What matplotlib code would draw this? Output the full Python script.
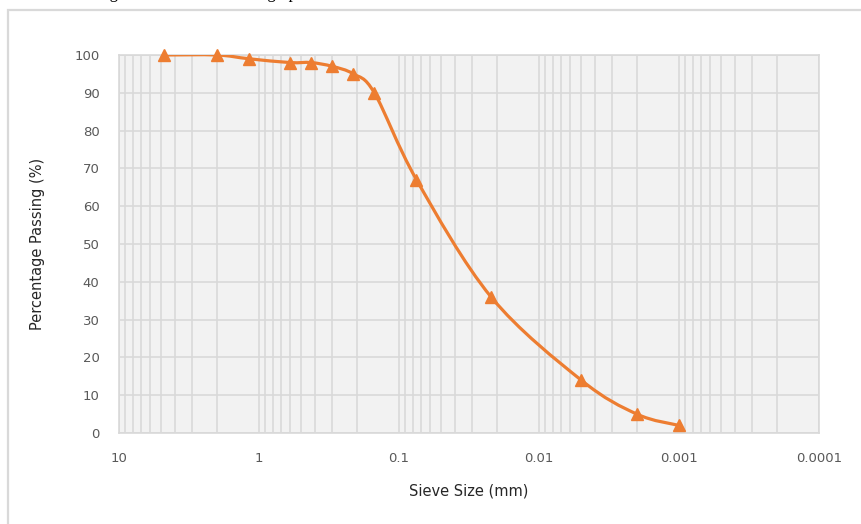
import numpy as np
import matplotlib
matplotlib.use('Agg')
import matplotlib.pyplot as plt
from matplotlib.path import Path
from matplotlib.patches import PathPatch, Rectangle
from matplotlib.ticker import LogLocator, NullFormatter, FixedLocator

# sieve / hydrometer results
sieve_size = [4.75, 2.0, 1.18, 0.6, 0.425, 0.3, 0.212, 0.15, 0.075, 0.022, 0.005, 0.002, 0.001]
passing = [100, 100, 99, 98, 98, 97, 95, 90, 67, 36, 14, 5, 2]
x_ticks = [10, 1, 0.1, 0.01, 0.001, 0.0001]
x_tick_labels = ['10', '1', '0.1', '0.01', '0.001', '0.0001']
y_ticks = [0, 10, 20, 30, 40, 50, 60, 70, 80, 90, 100]

orange = '#ED7D31'
grid_c = '#D9D9D9'
text_c = '#595959'

W, H = 861, 524
fig = plt.figure(figsize=(W / 100, H / 100), dpi=100)

# chart area border (cut by the page)
fig.patches.append(Rectangle((8 / W, -0.1), 1.1, 1 - 10 / H + 0.1, transform=fig.transFigure,
                             fill=False, edgecolor=grid_c, lw=1.6, zorder=0))
# caption line of the document above the chart, cut off at the top of the picture
fig.text(40 / W, 1 + 2.5 / H, 'The sieving result is shown in the graph', fontsize=12,
         family='Liberation Serif', color='black', va='baseline', ha='left')

ax = fig.add_axes([119 / W, (H - 433) / H, 700 / W, 378 / H])
ax.set_facecolor('#F2F2F2')
ax.set_xscale('log')
ax.set_xlim(10, 0.0001)
ax.set_ylim(0, 100)

ax.xaxis.set_major_locator(FixedLocator(x_ticks))
ax.set_xticklabels(x_tick_labels)
ax.xaxis.set_minor_locator(LogLocator(base=10, subs=np.arange(2, 10)))
ax.xaxis.set_minor_formatter(NullFormatter())
ax.set_yticks(y_ticks)

ax.grid(True, which='both', axis='x', color=grid_c, lw=1.2)
ax.grid(True, which='major', axis='y', color=grid_c, lw=1.2)
ax.set_axisbelow(True)
for s in ax.spines.values():
    s.set_color(grid_c)
    s.set_linewidth(1.2)
ax.tick_params(which='both', length=0, colors=text_c, labelsize=9.5)
ax.tick_params(axis='x', pad=14)
ax.tick_params(axis='y', pad=14)

# smoothed line (Catmull-Rom as Bezier, in log-x space)
lx = np.log10(sieve_size)
pts = np.column_stack([lx, passing]).astype(float)
n = len(pts)
verts = [pts[0]]
codes = [Path.MOVETO]
for i in range(n - 1):
    p0 = pts[i - 1] if i > 0 else pts[i]
    p1 = pts[i]
    p2 = pts[i + 1]
    p3 = pts[i + 2] if i + 2 < n else pts[i + 1]
    c1 = p1 + (p2 - p0) / 6
    c2 = p2 - (p3 - p1) / 6
    verts += [c1, c2, p2]
    codes += [Path.CURVE4] * 3
verts = np.array(verts)
verts[:, 0] = 10 ** verts[:, 0]
ax.add_patch(PathPatch(Path(verts, codes), fill=False, edgecolor=orange, lw=2.3,
                       capstyle='round', joinstyle='round', zorder=3))
ax.plot(sieve_size, passing, ls='none', marker='^', ms=9, color=orange, zorder=4, clip_on=False)

ax.set_xlabel('Sieve Size (mm)', fontsize=10.5, color='#262626', labelpad=13)
ax.set_ylabel('Percentage Passing (%)', fontsize=10.5, color='#262626', labelpad=21)

fig.savefig('out.png', dpi=100)
